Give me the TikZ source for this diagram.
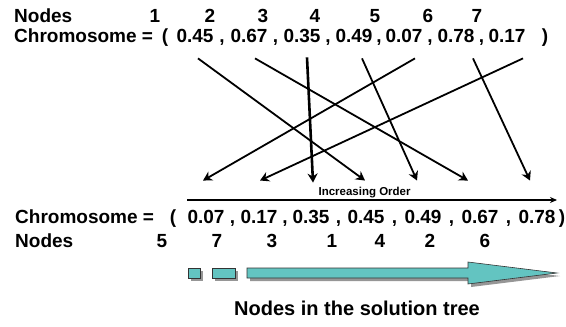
\documentclass[tikz,border=0pt]{standalone}
\usepackage{fontspec}
\setmainfont{Liberation Sans}
\usetikzlibrary{arrows.meta,positioning,calc,shadows}
\definecolor{blockteal}{RGB}{99,196,193}
\definecolor{shadowgray}{RGB}{150,150,150}
\begin{document}
\begin{tikzpicture}[x=1pt, y=-1pt,
  big/.style={font=\fontsize{19}{22}\selectfont\bfseries, inner sep=0pt, anchor=base},
  lbl/.style={big, anchor=base west},
  arr/.style={-{Stealth[length=9pt, width=10pt]}, line width=1.8pt},
  ordarr/.style={-{Stealth[length=7pt, width=6pt]}, line width=1.2pt},
  blk/.style={fill=blockteal, draw=black!80, line width=0.6pt,
    drop shadow={shadow xshift=3pt, shadow yshift=-3pt, fill=shadowgray, opacity=1}}
]
\useasboundingbox (0,0) rectangle (566,327);
% original chromosome
\node[lbl] (tnodes) at (14,22) {Nodes};
\node[lbl] (tchrom) at (14,42) {Chromosome =};
\foreach \n/\x in {1/155, 2/210, 3/263, 4/315, 5/375, 6/428, 7/477}
  \node[big] (tn\n) at (\x,22) {\n};
\node[big] (topen) at (165,42) {(};
\foreach \i/\v/\x in {1/0.45/195, 2/0.67/249, 3/0.35/302, 4/0.49/354,
                      5/0.07/404, 6/0.78/456, 7/0.17/507}
  \node[big] (t\i) at (\x,42) {\v};
\node[big] (tclose) at (545,42) {)};
\foreach \i [evaluate=\i as \j using int(\i+1)] in {1,...,6}
  \node[big] (tk\i) at ($(t\i.base)!0.5!(t\j.base)$) {,};
% sorted chromosome
\node[lbl] (bchrom) at (15,223) {Chromosome =};
\node[lbl] (bnodes) at (15,247) {Nodes};
\node[big] (bopen) at (173,223) {(};
\foreach \i/\v/\x in {1/0.07/206, 2/0.17/259, 3/0.35/311, 4/0.45/366,
                      5/0.49/423, 6/0.67/480, 7/0.78/537}
  \node[big] (b\i) at (\x,223) {\v};
\node[big] (bclose) at (562,223) {)};
\foreach \i [evaluate=\i as \j using int(\i+1)] in {1,...,6}
  \node[big] (bk\i) at ($(b\i.base)!0.5!(b\j.base)$) {,};
\foreach \n/\x in {5/162, 7/217, 3/272, 1/332, 4/380, 2/430, 6/485}
  \node[big] (bn\n) at (\x,247) {\n};
% mapping arrows
\foreach \a/\b/\sx/\ex in {1/4/3/-1, 2/6/6/-12, 4/5/8/-6, 5/1/11/-3, 6/7/17/-7, 7/2/16/1}
  \draw[arr] ([shift={(\sx,16)}]t\a.south) -- ([shift={(\ex,-29)}]b\b.north);
\draw[arr, line width=2.6pt] ([shift={(5,15)}]t3.south) -- ([shift={(2,-27)}]b3.north);
% increasing order
\coordinate (ordL) at (187,200);
\coordinate (ordR) at (557,200);
\draw[ordarr] (ordL) -- node[pos=0.48, above=1pt, inner sep=0pt,
  font=\fontsize{11.5}{13}\selectfont\bfseries] (ordlbl) {Increasing Order} (ordR);
% solution tree blocks
\path[blk] (188,268) rectangle (200,278);
\path[blk] (212,268) rectangle (235,278);
\path[blk] (247,268) -- (468,268) -- (468,262) -- (557,273) -- (468,284)
  -- (468,278) -- (247,278) -- cycle;
\node[big, font=\fontsize{20}{24}\selectfont\bfseries] (cap) at (357,315)
  {Nodes in the solution tree};
\end{tikzpicture}
\end{document}
